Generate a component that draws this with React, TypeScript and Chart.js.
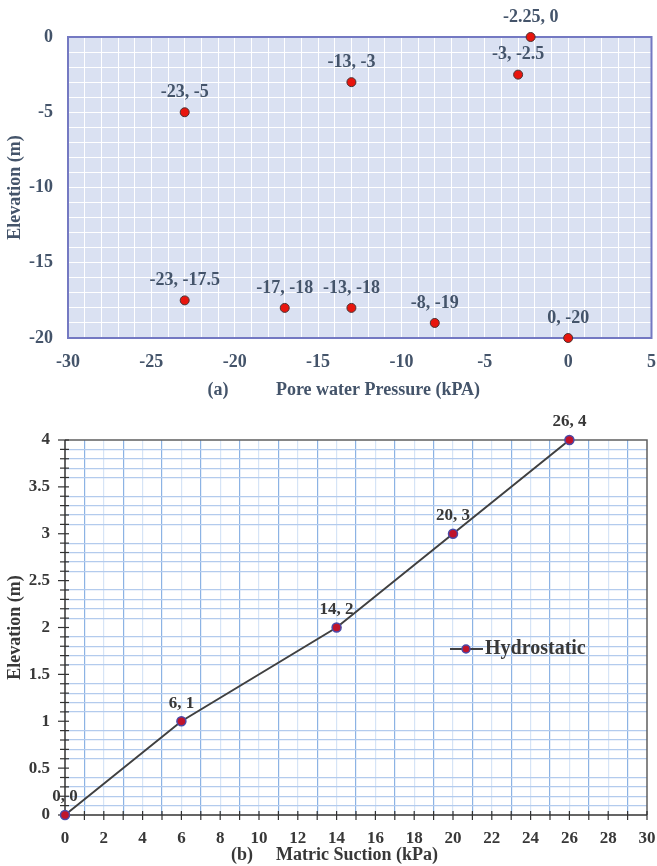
import React, { useEffect, useRef } from 'react';
import { Chart, registerables } from 'chart.js';

Chart.register(...registerables);

// ---- Data: chart (a) ----
const pwpX = [-2.25, -13, -3, -23, -23, -17, -13, -8, 0];
const pwpY = [0, -3, -2.5, -5, -17.5, -18, -18, -19, -20];
const xTickLabelsA = [-30, -25, -20, -15, -10, -5, 0, 5];
const yTickLabelsA = [0, -5, -10, -15, -20];

// ---- Data: chart (b) ----
const suctionX = [0, 6, 14, 20, 26];
const elevationY = [0, 1, 2, 3, 4];
const xTickLabelsB = [0, 2, 4, 6, 8, 10, 12, 14, 16, 18, 20, 22, 24, 26, 28, 30];
const yTickLabelsB = [0, 0.5, 1, 1.5, 2, 2.5, 3, 3.5, 4];
const seriesLabel = 'Hydrostatic';

const panelA = '(a)';
const panelB = '(b)';
const xTitleA = 'Pore water Pressure (kPA)';
const xTitleB = 'Matric Suction (kPa)';
const yTitle = 'Elevation (m)';

const FAM = "'Liberation Serif', 'Times New Roman', serif";
const COLOR_A = '#44546a';
const COLOR_B = '#383838';

const pointLabels = (color: string, size: number, dy: number) => ({
  id: 'pointLabels',
  afterDatasetsDraw(chart: any) {
    const ctx = chart.ctx;
    ctx.save();
    ctx.fillStyle = color;
    ctx.font = `bold ${size}px ${FAM}`;
    ctx.textAlign = 'center';
    ctx.textBaseline = 'middle';
    chart.data.datasets.forEach((ds: any, di: number) => {
      const meta = chart.getDatasetMeta(di);
      meta.data.forEach((el: any, i: number) => {
        const p = ds.data[i];
        ctx.fillText(`${p.x}, ${p.y}`, el.x, el.y - dy);
      });
    });
    ctx.restore();
  },
});

const titles = (
  color: string,
  size: number,
  panel: string,
  panelX: number,
  xTitle: string,
  xTitleX: number,
  titleY: number
) => ({
  id: 'titles',
  afterDraw(chart: any) {
    const ctx = chart.ctx;
    const ca = chart.chartArea;
    ctx.save();
    ctx.fillStyle = color;
    ctx.font = `bold ${size}px ${FAM}`;
    ctx.textAlign = 'center';
    ctx.textBaseline = 'middle';
    ctx.fillText(panel, panelX, titleY);
    ctx.fillText(xTitle, xTitleX, titleY);
    ctx.translate(15, (ca.top + ca.bottom) / 2);
    ctx.rotate(-Math.PI / 2);
    ctx.fillText(yTitle, 0, 0);
    ctx.restore();
  },
});

const bgA = {
  id: 'bgA',
  beforeDraw(chart: any) {
    const { ctx, chartArea: ca } = chart;
    ctx.save();
    ctx.fillStyle = '#dae1f2';
    ctx.fillRect(ca.left, ca.top, ca.right - ca.left, ca.bottom - ca.top);
    ctx.restore();
  },
  beforeDatasetsDraw(chart: any) {
    const { ctx, chartArea: ca } = chart;
    ctx.save();
    ctx.strokeStyle = '#7479c2';
    ctx.lineWidth = 2;
    ctx.strokeRect(ca.left, ca.top, ca.right - ca.left, ca.bottom - ca.top);
    ctx.restore();
  },
};

const axesB = {
  id: 'axesB',
  beforeDatasetsDraw(chart: any) {
    const { ctx, chartArea: ca, scales } = chart;
    ctx.save();
    ctx.strokeStyle = '#5f5f5f';
    ctx.lineWidth = 1.5;
    ctx.beginPath();
    ctx.moveTo(ca.left, ca.top);
    ctx.lineTo(ca.right, ca.top);
    ctx.lineTo(ca.right, ca.bottom);
    ctx.stroke();
    ctx.strokeStyle = '#333333';
    ctx.lineWidth = 1.5;
    ctx.beginPath();
    ctx.moveTo(ca.left, ca.top);
    ctx.lineTo(ca.left, ca.bottom);
    ctx.lineTo(ca.right, ca.bottom);
    ctx.stroke();
    ctx.lineWidth = 1.2;
    scales.y.ticks.forEach((t: any) => {
      const y = scales.y.getPixelForValue(t.value);
      const major = Math.round(t.value * 10) % 5 === 0;
      ctx.beginPath();
      ctx.moveTo(ca.left - (major ? 7 : 5), y);
      ctx.lineTo(ca.left + 4, y);
      ctx.stroke();
    });
    scales.x.ticks.forEach((t: any) => {
      const x = scales.x.getPixelForValue(t.value);
      ctx.beginPath();
      ctx.moveTo(x, ca.bottom - 4);
      ctx.lineTo(x, ca.bottom + 5);
      ctx.stroke();
    });
    ctx.restore();
  },
};

const legendB = {
  id: 'legendB',
  afterDraw(chart: any) {
    const { ctx } = chart;
    const ds = chart.data.datasets[0];
    const y = 249;
    ctx.save();
    ctx.strokeStyle = ds.borderColor;
    ctx.lineWidth = 2;
    ctx.beginPath();
    ctx.moveTo(450, y);
    ctx.lineTo(483, y);
    ctx.stroke();
    ctx.beginPath();
    ctx.arc(466, y, 4, 0, Math.PI * 2);
    ctx.fillStyle = ds.pointBackgroundColor;
    ctx.fill();
    ctx.strokeStyle = ds.pointBorderColor;
    ctx.lineWidth = 1.5;
    ctx.stroke();
    ctx.fillStyle = COLOR_B;
    ctx.font = `bold 20px ${FAM}`;
    ctx.textAlign = 'left';
    ctx.textBaseline = 'middle';
    ctx.fillText(ds.label, 485, y);
    ctx.restore();
  },
};

const fitX = (h: number) => (s: any) => {
  s.height = h;
  s.paddingLeft = 0;
  s.paddingRight = 0;
};
const fitY = (w: number) => (s: any) => {
  s.width = w;
  s.paddingTop = 0;
  s.paddingBottom = 0;
};

export default function App() {
  const refA = useRef<HTMLCanvasElement>(null);
  const refB = useRef<HTMLCanvasElement>(null);

  useEffect(() => {
    const tickFontA = { family: FAM, size: 18, weight: 'bold' as const };
    const chartA = new Chart(refA.current as HTMLCanvasElement, {
      type: 'scatter',
      data: {
        datasets: [
          {
            data: pwpX.map((x, i) => ({ x, y: pwpY[i] })),
            backgroundColor: '#e8150d',
            borderColor: '#4b3434',
            borderWidth: 1,
            pointRadius: 4.5,
            clip: false as any,
          },
        ],
      },
      options: {
        animation: false,
        responsive: false,
        maintainAspectRatio: false,
        layout: { padding: { left: 0, right: 4, top: 37, bottom: 0 } },
        plugins: { legend: { display: false }, tooltip: { enabled: false } },
        scales: {
          x: {
            type: 'linear',
            min: -30,
            max: 5,
            afterFit: fitX(62),
            ticks: {
              stepSize: 1,
              autoSkip: false,
              maxRotation: 0,
              padding: 14,
              color: COLOR_A,
              font: tickFontA,
              callback: (v: any) => (xTickLabelsA.includes(v) ? String(v) : ''),
            },
            grid: { color: '#ffffff', lineWidth: 1, drawTicks: false },
            border: { display: false },
          },
          y: {
            type: 'linear',
            min: -20,
            max: 0,
            afterFit: fitY(68),
            ticks: {
              stepSize: 1,
              autoSkip: false,
              padding: 15,
              color: COLOR_A,
              font: tickFontA,
              callback: (v: any) => (yTickLabelsA.includes(v) ? String(v) : ''),
            },
            grid: { color: '#ffffff', lineWidth: 1, drawTicks: false },
            border: { display: false },
          },
        },
      },
      plugins: [bgA, pointLabels(COLOR_A, 18, 20), titles(COLOR_A, 18, panelA, 218, xTitleA, 378, 390)],
    });

    const tickFontB = { family: FAM, size: 17, weight: 'bold' as const };
    const chartB = new Chart(refB.current as HTMLCanvasElement, {
      type: 'line',
      data: {
        datasets: [
          {
            label: seriesLabel,
            data: suctionX.map((x, i) => ({ x, y: elevationY[i] })),
            borderColor: '#404040',
            borderWidth: 2,
            pointBackgroundColor: '#c0142c',
            pointBorderColor: '#4a4aa8',
            pointBorderWidth: 1.5,
            pointRadius: 4.5,
            tension: 0,
            clip: false as any,
          },
        ],
      },
      options: {
        animation: false,
        responsive: false,
        maintainAspectRatio: false,
        layout: { padding: { left: 0, right: 10, top: 40, bottom: 0 } },
        plugins: { legend: { display: false }, tooltip: { enabled: false } },
        scales: {
          x: {
            type: 'linear',
            min: 0,
            max: 30,
            afterFit: fitX(51),
            ticks: {
              stepSize: 1,
              autoSkip: false,
              maxRotation: 0,
              padding: 13,
              color: COLOR_B,
              font: tickFontB,
              callback: (v: any) => (xTickLabelsB.includes(v) ? String(v) : ''),
            },
            grid: {
              drawTicks: false,
              lineWidth: 1.2,
              color: (c: any) => {
                const v = c.tick ? c.tick.value : 0;
                if (v === 0 || v === 30) return 'rgba(0,0,0,0)';
                return Math.abs(v % 2) === 1 ? '#8cb3e4' : '#d6e4f6';
              },
            },
            border: { display: false },
          },
          y: {
            type: 'linear',
            min: 0,
            max: 4,
            afterFit: fitY(65),
            ticks: {
              stepSize: 0.1,
              autoSkip: false,
              padding: 15,
              color: COLOR_B,
              font: tickFontB,
              callback: (v: any) => {
                const r = Math.round(v * 10) / 10;
                return yTickLabelsB.includes(r) ? String(r) : '';
              },
            },
            grid: {
              drawTicks: false,
              lineWidth: 1.2,
              color: (c: any) => {
                const v = c.tick ? c.tick.value : 0;
                const k = Math.round(v * 10);
                if (k % 5 === 0) return 'rgba(0,0,0,0)';
                return '#b3cbed';
              },
            },
            border: { display: false },
          },
        },
      },
      plugins: [axesB, pointLabels(COLOR_B, 17, 18), legendB, titles(COLOR_B, 18, panelB, 242, xTitleB, 357, 455)],
    });

    return () => {
      chartA.destroy();
      chartB.destroy();
    };
  }, []);

  return (
    <div style={{ position: 'absolute', left: 0, top: 0, width: 657, height: 866, background: '#ffffff' }}>
      <canvas ref={refA} width={657} height={400} style={{ position: 'absolute', left: 0, top: 0, width: 657, height: 400 }} />
      <canvas ref={refB} width={657} height={466} style={{ position: 'absolute', left: 0, top: 400, width: 657, height: 466 }} />
    </div>
  );
}
